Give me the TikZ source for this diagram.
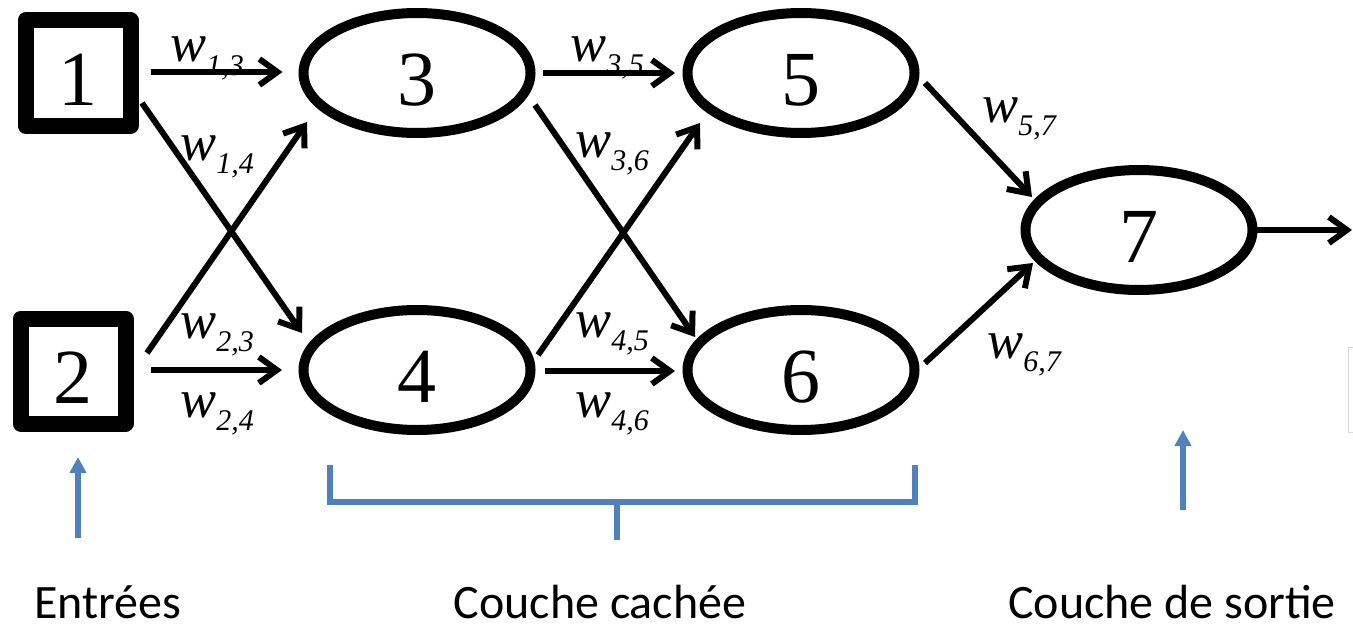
\documentclass[tikz,border=0pt]{standalone}
\usepackage{fontspec}
\setmainfont{Liberation Serif}
\newfontfamily\calibri{Carlito}
\usetikzlibrary{shapes.geometric,arrows.meta,calc}
\definecolor{bleu}{HTML}{4F81BD}
% poids w_{i,j}
\newcommand{\wlab}[1]{{\fontsize{27}{27}\selectfont\itshape w}\raisebox{-6.5pt}{\fontsize{15}{15}\selectfont\itshape #1}}
\begin{document}
\begin{tikzpicture}[x=.5pt,y=.5pt,
	entree/.style={draw,line width=8pt,line join=round,minimum size=52.5pt,inner sep=0pt,outer sep=0pt,
		font=\fontsize{39}{39}\selectfont,text height=32pt,text depth=0pt},
	neurone/.style={draw,ellipse,line width=5pt,minimum width=113.5pt,minimum height=60pt,inner sep=0pt,outer sep=0pt,
		font=\fontsize{39}{39}\selectfont,text height=32pt,text depth=0pt},
	fleche/.style={line width=3pt,-{Straight Barb[length=9pt,width=13pt]}},
	poids/.style={anchor=base west,inner sep=0pt},
	couche/.style={anchor=base,inner sep=0pt,font=\calibri\fontsize{24}{24}\selectfont},
	bleue/.style={draw=bleu,line width=2.6pt}]
	\useasboundingbox (0,0) rectangle (1353,628);
	% neurones
	\node[entree] (n1) at (78,555) {1};
	\node[entree] (n2) at (73,257) {2};
	\node[neurone] (n3) at (417,555) {3};
	\node[neurone] (n4) at (417,258) {4};
	\node[neurone] (n5) at (801,555) {5};
	\node[neurone] (n6) at (801,258) {6};
	\node[neurone] (n7) at (1139,398) {7};
	\coordinate (sortie) at (1352,398);
	% connexions
	\draw[fleche] ($(n1.east)+(20,1)$) -- ($(n3.west)+(-21,1)$);
	\draw[fleche] ($(n1.east)+(11.5,-30)$) -- ($(n4.west)+(-1.5,37)$);
	\draw[fleche] ($(n2.east)+(21.5,18)$) -- ($(n3.west)+(3.5,-49)$);
	\draw[fleche] ($(n2.east)+(25.5,1)$) -- ($(n4.west)+(-21.5,0)$);
	\draw[fleche] ($(n3.east)+(12.5,0)$) -- ($(n5.west)+(-12.5,0)$);
	\draw[fleche] ($(n3.east)+(4.5,-32)$) -- ($(n6.west)+(7.5,33)$);
	\draw[fleche] ($(n4.east)+(7.5,15)$) -- ($(n5.west)+(12.5,-50)$);
	\draw[fleche] ($(n4.east)+(14.5,-1)$) -- ($(n6.west)+(-12.5,-1)$);
	\draw[fleche] ($(n5.east)+(10.5,-10)$) -- ($(n7.west)+(6.5,33)$);
	\draw[fleche] ($(n6.east)+(10.5,7)$) -- ($(n7.west)+(7.5,-33)$);
	\draw[fleche] ($(n7.east)+(4.5,0)$) -- (sortie);
	% poids
	\node[poids] (w13) at (170,566) {\wlab{1,3}};
	\node[poids] (w14) at (180,468) {\wlab{1,4}};
	\node[poids] (w23) at (180,290) {\wlab{2,3}};
	\node[poids] (w24) at (180,211) {\wlab{2,4}};
	\node[poids] (w35) at (570,567) {\wlab{3,5}};
	\node[poids] (w36) at (575,471) {\wlab{3,6}};
	\node[poids] (w45) at (575,291) {\wlab{4,5}};
	\node[poids] (w46) at (575,211) {\wlab{4,6}};
	\node[poids] (w57) at (982,506) {\wlab{5,7}};
	\node[poids] (w67) at (987,270) {\wlab{6,7}};
	% couches
	\node[couche] (entrees) at (108,10) {Entrées};
	\node[couche] (cachee) at (600,10) {Couche cachée};
	\node[couche] (sortiec) at (1172,10) {Couche de sortie};
	\coordinate (e1) at (78,90);   \coordinate (e2) at (78,171);
	\coordinate (s1) at (1183,118); \coordinate (s2) at (1183,198);
	\draw[bleue,-{Triangle[length=8pt,width=8pt]}] (e1) -- (e2);
	\draw[bleue,-{Triangle[length=8pt,width=8pt]}] (s1) -- (s2);
	\draw[bleue] (330,163) -- (330,126) -- (915,126) -- (915,163);
	\draw[bleue] (617,126) -- (617,88);
	\draw[gray!30,line width=.5pt] (1348,196) rectangle (1370,281);
\end{tikzpicture}
\end{document}
